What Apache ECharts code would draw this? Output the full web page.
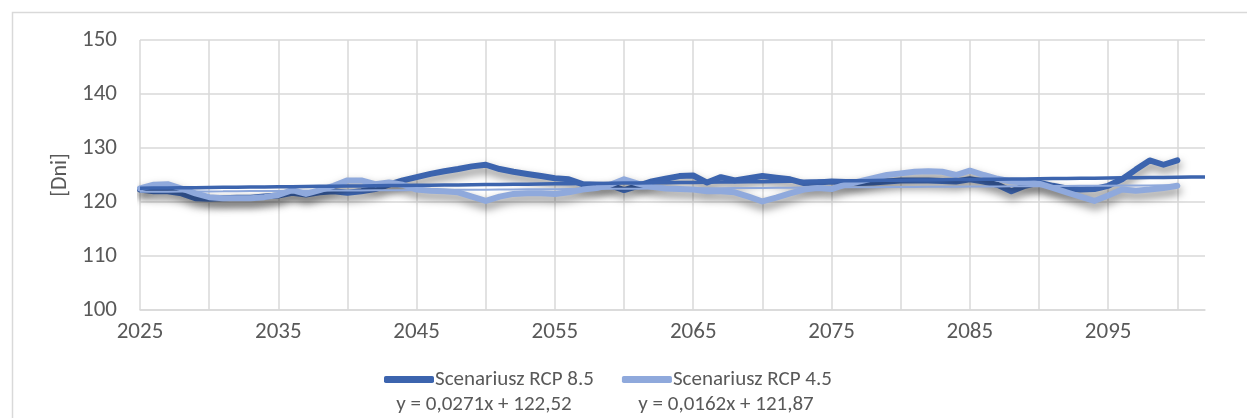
<!DOCTYPE html>
<html>
<head>
<meta charset="utf-8">
<script src="https://cdn.jsdelivr.net/npm/echarts@6/dist/echarts.min.js"></script>
<style>
html,body{margin:0;padding:0;background:#fff;}
#chart{width:1247px;height:418px;}
</style>
</head>
<body>
<div id="chart"></div>
<script>
// ---- data ----
const years = [];
for (let y = 2025; y <= 2100; y++) years.push(String(y));
const forecastYears = ['2101', '2102'];

const rcp85 = [
  122.3, 122.0, 122.0, 121.6, 120.7, 120.6, 120.7, 120.8, 120.8, 121.0,
  121.2, 121.7, 121.4, 121.8, 122.0, 121.7, 122.0, 122.4, 123.2, 124.0,
  124.6, 125.2, 125.7, 126.1, 126.6, 126.9, 126.1, 125.6, 125.2, 124.8,
  124.4, 124.2, 123.3, 123.2, 123.1, 122.2, 123.0, 123.8, 124.3, 124.8,
  124.9, 123.6, 124.6, 124.0, 124.4, 124.8, 124.5, 124.2, 123.5, 123.6,
  123.8, 123.7, 123.5, 123.6, 123.8, 124.0, 124.0, 124.0, 123.9, 123.8,
  124.2, 123.8, 123.2, 122.0, 123.0, 123.6, 123.0, 122.5, 122.3, 122.4,
  123.0, 124.2, 126.0, 127.7, 126.9, 127.7
];
const rcp45 = [
  122.5, 123.2, 123.3, 122.5, 121.6, 120.9, 120.7, 120.7, 120.7, 120.9,
  121.3, 122.2, 121.5, 122.2, 123.0, 124.0, 124.0, 123.3, 123.6, 123.2,
  122.3, 122.1, 122.0, 121.8, 121.0, 120.2, 121.0, 121.5, 121.6, 121.6,
  121.5, 121.8, 122.3, 122.6, 123.2, 124.2, 123.4, 122.8, 122.5, 122.4,
  122.3, 122.0, 122.0, 121.8, 121.0, 120.1, 120.8, 121.6, 122.3, 122.6,
  122.4, 123.2, 123.8, 124.4, 125.0, 125.3, 125.6, 125.7, 125.6, 125.0,
  125.8, 125.0, 124.3, 123.8, 123.6, 123.4, 122.6, 121.8, 121.0, 120.2,
  121.2, 122.3, 122.1, 122.3, 122.6, 123.0
];
const seriesNames = ['Scenariusz RCP 8.5', 'Scenariusz RCP 4.5'];
const trendSlope = [0.0271, 0.0162];
const trendIntercept = [122.52, 121.87];
const trendLabels = ['y = 0,0271x + 122,52', 'y = 0,0162x + 121,87'];
const yTicks = [100, 110, 120, 130, 140, 150];

// ---- build ----
const axisCats = years.concat(forecastYears);
const trend85 = axisCats.map((_, i) => +(trendIntercept[0] + trendSlope[0] * (i + 1)).toFixed(3));
const trend45 = years.map((_, i) => +(trendIntercept[1] + trendSlope[1] * (i + 1)).toFixed(3));

const DARK = '#3C64AE';
const LIGHT = '#8FA9DC';
const FONT = "Carlito, 'Liberation Sans Narrow', Roboto, sans-serif";
const TXT = '#595959';

const chart = echarts.init(document.getElementById('chart'), null, {renderer: 'canvas'});
const shadow = {shadowColor: 'rgba(0,0,0,0.5)', shadowBlur: 8, shadowOffsetX: 1, shadowOffsetY: 5};

chart.setOption({
  animation: false,
  backgroundColor: '#fff',
  textStyle: {fontFamily: FONT},
  grid: {left: 140, right: 42, top: 40, bottom: 108, containLabel: false},
  xAxis: {
    type: 'category',
    data: axisCats,
    boundaryGap: false,
    axisLine: {lineStyle: {color: '#D9D9D9', width: 1.5}},
    axisTick: {show: false},
    axisLabel: {interval: 9, color: TXT, fontSize: 23, fontFamily: FONT, margin: 11},
    splitLine: {show: true, interval: 4, lineStyle: {color: '#D9D9D9', width: 1.5}}
  },
  yAxis: {
    type: 'value',
    min: yTicks[0], max: yTicks[yTicks.length - 1], interval: 10,
    name: '[Dni]',
    nameLocation: 'middle',
    nameGap: 69,
    nameRotate: 90,
    nameTextStyle: {color: TXT, fontSize: 22, fontFamily: FONT},
    axisLine: {show: false},
    axisTick: {show: false},
    axisLabel: {color: TXT, fontSize: 23, fontFamily: FONT, margin: 23},
    splitLine: {lineStyle: {color: '#D9D9D9', width: 1.5}}
  },
  legend: {
    data: seriesNames,
    left: 379, top: 364,
    itemWidth: 50, itemHeight: 7,
    itemGap: 28,
    icon: 'roundRect',
    textStyle: {color: TXT, fontSize: 21, fontFamily: FONT, padding: [0, 0, 0, -4]}
  },
  graphic: [
    {type: 'rect', left: 10, top: 10, z: -10, silent: true,
     shape: {x: 0, y: 0, width: 1400, height: 600},
     style: {fill: 'none', stroke: '#D9D9D9', lineWidth: 1.5}},
    {type: 'text', silent: true, x: 484, y: 394,
     style: {text: trendLabels[0], fill: TXT, font: "21px " + FONT, textAlign: 'center'}},
    {type: 'text', silent: true, x: 726, y: 394,
     style: {text: trendLabels[1], fill: TXT, font: "21px " + FONT, textAlign: 'center'}}
  ],
  series: [
    {name: seriesNames[0], type: 'line', data: rcp85, symbol: 'none', z: 2,
     itemStyle: {color: DARK},
     lineStyle: Object.assign({color: DARK, width: 6, cap: 'round', join: 'round'}, shadow)},
    {name: seriesNames[1], type: 'line', data: rcp45, symbol: 'none', z: 3,
     itemStyle: {color: LIGHT},
     lineStyle: Object.assign({color: LIGHT, width: 6, cap: 'round', join: 'round'}, shadow)},
    {name: 'trend45', type: 'line', data: trend45, symbol: 'none', z: 4,
     lineStyle: {color: LIGHT, width: 2}},
    {name: 'trend85', type: 'line', data: trend85, symbol: 'none', z: 5,
     lineStyle: {color: DARK, width: 3.5}}
  ]
});
</script>
</body>
</html>
